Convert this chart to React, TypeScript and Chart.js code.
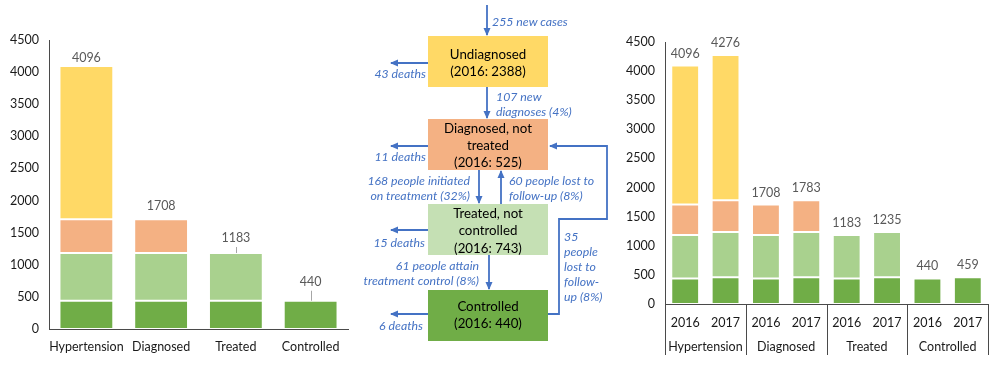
import React, { useEffect, useRef } from "react";
import { Chart, registerables } from "chart.js";

Chart.register(...registerables);

// ---------- data ----------
const stages = ["Hypertension", "Diagnosed", "Treated", "Controlled"];
const years = ["2016", "2017"];

const controlled2016 = [440, 440, 440, 440];
const treatedNotControlled2016 = [743, 743, 743, null];
const diagnosedNotTreated2016 = [525, 525, null, null];
const undiagnosed2016 = [2388, null, null, null];
const totals2016 = [4096, 1708, 1183, 440];

const controlled2017 = [459, 459, 459, 459];
const treatedNotControlled2017 = [776, 776, 776, null];
const diagnosedNotTreated2017 = [548, 548, null, null];
const undiagnosed2017 = [2493, null, null, null];
const totals2017 = [4276, 1783, 1235, 459];

const yMax = 4500;
const yStep = 500;

// ---------- styles ----------
const FONT = "Lato, 'Open Sans', sans-serif";
const FS = 12.5;
const C_CONTROLLED = "#70AD47";
const C_TREATED = "#A9D18E";
const C_DIAGNOSED = "#F4B183";
const C_UNDIAG = "#FFD966";
const AXIS = "#4a4a4a";
const TICK = "#1a1a1a";
const LABEL = "#595959";
const BLUE = "#4472C4";

const interleave = (a: (number | null)[], b: (number | null)[]) =>
  a.flatMap((v, i) => [v, b[i]]);

function makeTotalsPlugin(totals: number[], gaps: number[], leaders: boolean[]) {
  return {
    id: "totals",
    afterDatasetsDraw(chart: any) {
      const { ctx } = chart;
      ctx.save();
      ctx.font = `${FS}px ${FONT}`;
      ctx.fillStyle = LABEL;
      ctx.textAlign = "center";
      ctx.textBaseline = "middle";
      totals.forEach((t, i) => {
        let topY = Infinity;
        let x = 0;
        chart.data.datasets.forEach((ds: any, di: number) => {
          const v = ds.data[i];
          if (v == null) return;
          const el = chart.getDatasetMeta(di).data[i];
          if (el && el.y < topY) {
            topY = el.y;
            x = el.x;
          }
        });
        const cy = topY - gaps[i];
        ctx.fillText(String(t), x, cy);
        if (leaders[i]) {
          ctx.strokeStyle = "#a6a6a6";
          ctx.lineWidth = 1;
          ctx.beginPath();
          ctx.moveTo(Math.round(x) + 0.5, cy + 9);
          ctx.lineTo(Math.round(x) + 0.5, topY);
          ctx.stroke();
        }
      });
      ctx.restore();
    },
  };
}

function makeGroupAxisPlugin(groups: string[], perGroup: number) {
  return {
    id: "groupAxis",
    afterDraw(chart: any) {
      const xs = chart.scales.x;
      const { ctx } = chart;
      const n = chart.data.labels.length;
      const cat = xs.width / n;
      const top = xs.top;
      const bottom = 355;
      ctx.save();
      ctx.strokeStyle = AXIS;
      ctx.lineWidth = 1;
      for (let g = 0; g <= groups.length; g++) {
        const px =
          g < groups.length
            ? xs.getPixelForValue(g * perGroup) - cat / 2
            : xs.getPixelForValue(n - 1) + cat / 2;
        const rx = Math.round(px) + 0.5;
        ctx.beginPath();
        ctx.moveTo(rx, top);
        ctx.lineTo(rx, bottom);
        ctx.stroke();
      }
      ctx.font = `${FS}px ${FONT}`;
      ctx.fillStyle = TICK;
      ctx.textAlign = "center";
      ctx.textBaseline = "middle";
      groups.forEach((gname, g) => {
        const a = xs.getPixelForValue(g * perGroup);
        const b = xs.getPixelForValue(g * perGroup + perGroup - 1);
        ctx.fillText(gname, (a + b) / 2, 347);
      });
      ctx.restore();
    },
  };
}

function barDs(label: string, data: (number | null)[], color: string) {
  return {
    label,
    data,
    backgroundColor: color,
    borderColor: "rgba(255,255,255,0.22)",
    borderWidth: 1,
    borderSkipped: false,
  };
}

function yScale(width: number) {
  return {
    stacked: true,
    min: 0,
    max: yMax,
    ticks: {
      stepSize: yStep,
      font: { family: FONT, size: FS },
      color: TICK,
      padding: 10,
      callback: (v: any) => String(v),
    },
    grid: { display: false, drawTicks: false },
    border: { display: true, color: AXIS, width: 1 },
    afterFit: (s: any) => {
      s.width = width;
    },
  };
}

function xScale(height: number, padding: number) {
  return {
    stacked: true,
    ticks: {
      font: { family: FONT, size: FS },
      color: TICK,
      padding,
      maxRotation: 0,
      minRotation: 0,
      autoSkip: false,
    },
    grid: { display: false, drawTicks: false },
    border: { display: true, color: AXIS, width: 1 },
    afterFit: (s: any) => {
      s.height = height;
    },
  };
}

function LeftChart() {
  const ref = useRef<HTMLCanvasElement>(null);
  useEffect(() => {
    const chart = new Chart(ref.current!, {
      type: "bar",
      data: {
        labels: stages,
        datasets: [
          barDs("Controlled", controlled2016, C_CONTROLLED),
          barDs("Treated, not controlled", treatedNotControlled2016, C_TREATED),
          barDs("Diagnosed, not treated", diagnosedNotTreated2016, C_DIAGNOSED),
          barDs("Undiagnosed", undiagnosed2016, C_UNDIAG),
        ],
      },
      options: {
        responsive: false,
        animation: false,
        layout: { padding: { top: 40, right: 12, left: 0, bottom: 0 } },
        datasets: { bar: { categoryPercentage: 1, barPercentage: 0.72 } },
        plugins: { legend: { display: false }, tooltip: { enabled: false } },
        scales: {
          x: xScale(37, 10),
          y: yScale(49),
        },
      } as any,
      plugins: [makeTotalsPlugin(totals2016, [8, 13, 15, 19], [false, false, true, true])],
    });
    return () => chart.destroy();
  }, []);
  return <canvas ref={ref} width={360} height={366} style={{ display: "block" }} />;
}

function RightChart() {
  const ref = useRef<HTMLCanvasElement>(null);
  useEffect(() => {
    const labels = stages.flatMap(() => years);
    const chart = new Chart(ref.current!, {
      type: "bar",
      data: {
        labels,
        datasets: [
          barDs("Controlled", interleave(controlled2016, controlled2017), C_CONTROLLED),
          barDs(
            "Treated, not controlled",
            interleave(treatedNotControlled2016, treatedNotControlled2017),
            C_TREATED
          ),
          barDs(
            "Diagnosed, not treated",
            interleave(diagnosedNotTreated2016, diagnosedNotTreated2017),
            C_DIAGNOSED
          ),
          barDs("Undiagnosed", interleave(undiagnosed2016, undiagnosed2017), C_UNDIAG),
        ],
      },
      options: {
        responsive: false,
        animation: false,
        layout: { padding: { top: 42, right: 12, left: 0, bottom: 0 } },
        datasets: { bar: { categoryPercentage: 1, barPercentage: 0.69 } },
        plugins: { legend: { display: false }, tooltip: { enabled: false } },
        scales: {
          x: xScale(62, 11),
          y: yScale(45),
        },
      } as any,
      plugins: [
        makeTotalsPlugin(
          interleave(totals2016, totals2017) as number[],
          Array(8).fill(12),
          Array(8).fill(false)
        ),
        makeGroupAxisPlugin(stages, years.length),
      ],
    });
    return () => chart.destroy();
  }, []);
  return <canvas ref={ref} width={380} height={366} style={{ display: "block" }} />;
}

// ---------- flow diagram ----------
const boxX = 428;
const boxW = 120;

function Arrow({ d }: { d: string }) {
  return <path d={d} fill="none" stroke={BLUE} strokeWidth={1.8} markerEnd="url(#ah)" />;
}

function BlueText({ x, y, anchor = "start", children }: any) {
  return (
    <text
      x={x}
      y={y}
      textAnchor={anchor}
      dominantBaseline="central"
      fontFamily={FONT}
      fontStyle="italic"
      fontSize={12.3}
      fill={BLUE}
    >
      {children}
    </text>
  );
}

function BoxText({ y, children }: any) {
  return (
    <text
      x={boxX + boxW / 2}
      y={y}
      textAnchor="middle"
      dominantBaseline="central"
      fontFamily={FONT}
      fontSize={13.3}
      fill="#000"
    >
      {children}
    </text>
  );
}

function FlowDiagram() {
  return (
    <svg
      width={1000}
      height={366}
      style={{ position: "absolute", left: 0, top: 0, pointerEvents: "none" }}
    >
      <defs>
        <marker
          id="ah"
          markerWidth="8"
          markerHeight="8"
          refX="7"
          refY="4"
          orient="auto"
          markerUnits="userSpaceOnUse"
        >
          <path d="M0,0.5 L8,4 L0,7.5 z" fill={BLUE} />
        </marker>
      </defs>

      <rect x={boxX} y={36} width={boxW} height={51} fill={C_UNDIAG} />
      <rect x={boxX} y={119} width={boxW} height={51} fill={C_DIAGNOSED} />
      <rect x={boxX} y={204} width={boxW} height={51} fill="#C5E0B4" />
      <rect x={boxX} y={290} width={boxW} height={51} fill={C_CONTROLLED} />

      <BoxText y={54}>Undiagnosed</BoxText>
      <BoxText y={71}>(2016: 2388)</BoxText>
      <BoxText y={128}>Diagnosed, not</BoxText>
      <BoxText y={145}>treated</BoxText>
      <BoxText y={162}>(2016: 525)</BoxText>
      <BoxText y={213}>Treated, not</BoxText>
      <BoxText y={230}>controlled</BoxText>
      <BoxText y={248}>(2016: 743)</BoxText>
      <BoxText y={306}>Controlled</BoxText>
      <BoxText y={323}>(2016: 440)</BoxText>

      <Arrow d="M487,5 V35" />
      <Arrow d="M487,87 V118" />
      <Arrow d="M479,170 V203" />
      <Arrow d="M501,204 V171" />
      <Arrow d="M489,255 V289" />

      <Arrow d="M428,63 H391" />
      <Arrow d="M428,146 H391" />
      <Arrow d="M428,230 H391" />
      <Arrow d="M428,314 H391" />

      <Arrow d="M548,314 H559 V219 H607 V146 H550" />

      <BlueText x={492} y={21}>255 new cases</BlueText>
      <BlueText x={496} y={96}>107 new</BlueText>
      <BlueText x={496} y={111}>diagnoses (4%)</BlueText>

      <BlueText x={426} y={73} anchor="end">43 deaths</BlueText>
      <BlueText x={426} y={156} anchor="end">11 deaths</BlueText>
      <BlueText x={425} y={242} anchor="end">15 deaths</BlueText>
      <BlueText x={423} y={325} anchor="end">6 deaths</BlueText>

      <BlueText x={470} y={180} anchor="end">168 people initiated</BlueText>
      <BlueText x={470} y={195} anchor="end">on treatment (32%)</BlueText>
      <BlueText x={509} y={180}>60 people lost to</BlueText>
      <BlueText x={509} y={195}>follow-up  (8%)</BlueText>
      <BlueText x={479} y={265} anchor="end">61 people attain</BlueText>
      <BlueText x={479} y={280} anchor="end">treatment control (8%)</BlueText>

      <BlueText x={564} y={236}>35</BlueText>
      <BlueText x={564} y={251}>people</BlueText>
      <BlueText x={564} y={266}>lost to</BlueText>
      <BlueText x={564} y={281}>follow-</BlueText>
      <BlueText x={564} y={296}>up (8%)</BlueText>
    </svg>
  );
}

export default function App() {
  return (
    <div
      style={{
        position: "fixed",
        left: 0,
        top: 0,
        width: 1000,
        height: 366,
        background: "#fff",
        overflow: "hidden",
      }}
    >
      <div style={{ position: "absolute", left: 0, top: 0 }}>
        <LeftChart />
      </div>
      <div style={{ position: "absolute", left: 620, top: 0 }}>
        <RightChart />
      </div>
      <FlowDiagram />
    </div>
  );
}
